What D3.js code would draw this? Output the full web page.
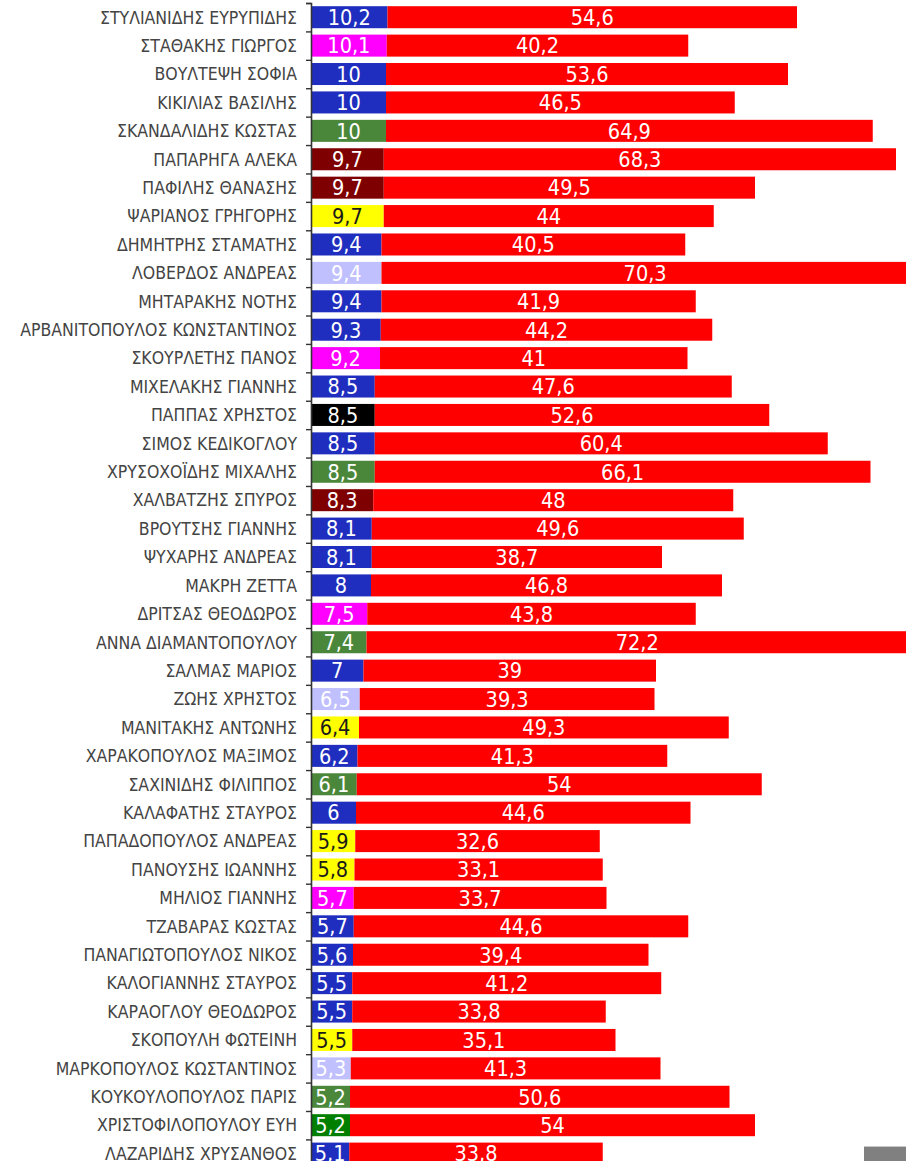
<!DOCTYPE html>
<html><head><meta charset="utf-8">
<script src="https://cdn.jsdelivr.net/npm/d3@7/dist/d3.min.js"></script>
<style>body{margin:0;background:#fff;overflow:hidden}</style>
</head><body>
<script>
const names = [
"ΣΤΥΛΙΑΝΙΔΗΣ ΕΥΡΥΠΙΔΗΣ","ΣΤΑΘΑΚΗΣ ΓΙΩΡΓΟΣ","ΒΟΥΛΤΕΨΗ ΣΟΦΙΑ","ΚΙΚΙΛΙΑΣ ΒΑΣΙΛΗΣ","ΣΚΑΝΔΑΛΙΔΗΣ ΚΩΣΤΑΣ",
"ΠΑΠΑΡΗΓΑ ΑΛΕΚΑ","ΠΑΦΙΛΗΣ ΘΑΝΑΣΗΣ","ΨΑΡΙΑΝΟΣ ΓΡΗΓΟΡΗΣ","ΔΗΜΗΤΡΗΣ ΣΤΑΜΑΤΗΣ","ΛΟΒΕΡΔΟΣ ΑΝΔΡΕΑΣ",
"ΜΗΤΑΡΑΚΗΣ ΝΟΤΗΣ","ΑΡΒΑΝΙΤΟΠΟΥΛΟΣ ΚΩΝΣΤΑΝΤΙΝΟΣ","ΣΚΟΥΡΛΕΤΗΣ ΠΑΝΟΣ","ΜΙΧΕΛΑΚΗΣ ΓΙΑΝΝΗΣ","ΠΑΠΠΑΣ ΧΡΗΣΤΟΣ",
"ΣΙΜΟΣ ΚΕΔΙΚΟΓΛΟΥ","ΧΡΥΣΟΧΟΪΔΗΣ ΜΙΧΑΛΗΣ","ΧΑΛΒΑΤΖΗΣ ΣΠΥΡΟΣ","ΒΡΟΥΤΣΗΣ ΓΙΑΝΝΗΣ","ΨΥΧΑΡΗΣ ΑΝΔΡΕΑΣ",
"ΜΑΚΡΗ ΖΕΤΤΑ","ΔΡΙΤΣΑΣ ΘΕΟΔΩΡΟΣ","ΑΝΝΑ ΔΙΑΜΑΝΤΟΠΟΥΛΟΥ","ΣΑΛΜΑΣ ΜΑΡΙΟΣ","ΖΩΗΣ ΧΡΗΣΤΟΣ",
"ΜΑΝΙΤΑΚΗΣ ΑΝΤΩΝΗΣ","ΧΑΡΑΚΟΠΟΥΛΟΣ ΜΑΞΙΜΟΣ","ΣΑΧΙΝΙΔΗΣ ΦΙΛΙΠΠΟΣ","ΚΑΛΑΦΑΤΗΣ ΣΤΑΥΡΟΣ","ΠΑΠΑΔΟΠΟΥΛΟΣ ΑΝΔΡΕΑΣ",
"ΠΑΝΟΥΣΗΣ ΙΩΑΝΝΗΣ","ΜΗΛΙΟΣ ΓΙΑΝΝΗΣ","ΤΖΑΒΑΡΑΣ ΚΩΣΤΑΣ","ΠΑΝΑΓΙΩΤΟΠΟΥΛΟΣ ΝΙΚΟΣ","ΚΑΛΟΓΙΑΝΝΗΣ ΣΤΑΥΡΟΣ",
"ΚΑΡΑΟΓΛΟΥ ΘΕΟΔΩΡΟΣ","ΣΚΟΠΟΥΛΗ ΦΩΤΕΙΝΗ","ΜΑΡΚΟΠΟΥΛΟΣ ΚΩΣΤΑΝΤΙΝΟΣ","ΚΟΥΚΟΥΛΟΠΟΥΛΟΣ ΠΑΡΙΣ","ΧΡΙΣΤΟΦΙΛΟΠΟΥΛΟΥ ΕΥΗ",
"ΛΑΖΑΡΙΔΗΣ ΧΡΥΣΑΝΘΟΣ"];
const firstValues = [10.2,10.1,10,10,10,9.7,9.7,9.7,9.4,9.4,9.4,9.3,9.2,8.5,8.5,8.5,8.5,8.3,8.1,8.1,8,7.5,7.4,7,6.5,6.4,6.2,6.1,6,5.9,5.8,5.7,5.7,5.6,5.5,5.5,5.5,5.3,5.2,5.2,5.1];
const secondValues = [54.6,40.2,53.6,46.5,64.9,68.3,49.5,44,40.5,70.3,41.9,44.2,41,47.6,52.6,60.4,66.1,48,49.6,38.7,46.8,43.8,72.2,39,39.3,49.3,41.3,54,44.6,32.6,33.1,33.7,44.6,39.4,41.2,33.8,35.1,41.3,50.6,54,33.8];
const parties = ["ND","SYRIZA","ND","ND","PASOK","KKE","KKE","DIMAR","ND","KIDISO","ND","ND","SYRIZA","ND","BLACK",
"ND","PASOK","KKE","ND","ND","ND","SYRIZA","PASOK","ND","KIDISO","DIMAR","ND","PASOK","ND","DIMAR",
"DIMAR","SYRIZA","ND","ND","ND","ND","DIMAR","KIDISO","PASOK","GREEN","ND"];
const partyKeys = ["ND","SYRIZA","PASOK","KKE","DIMAR","KIDISO","BLACK","GREEN"];
const partyColorList = ["#1F2EBE","#FF00FF","#4B873B","#7F0000","#FFFF00","#C0C0FF","#000000","#007F00"];
const partyTextList = ["#ffffff","#ffffff","#ffffff","#ffffff","#1a1a1a","#ffffff","#ffffff","#ffffff"];
const secondColor = "#FF0000";

const data = names.map((n,i)=>({name:n, a:firstValues[i], b:secondValues[i], p:parties[i]}));

const W = 906, H = 1161;
const svg = d3.select("body").append("svg").attr("width", W).attr("height", H)
  .style("font-family","'DejaVu Sans Condensed','DejaVu Sans',sans-serif").style("font-stretch","condensed");

const x = d3.scaleLinear().domain([0, 80]).range([311, 911]);
const step = 28.41;
const y = d3.scaleBand().domain(names).range([3, 3 + step*names.length]).paddingInner(0.225).paddingOuter(0.1125);
const yEdge = d3.scaleLinear().domain([0, names.length]).range([3, 3 + step*names.length]);
const color = d3.scaleOrdinal().domain(partyKeys).range(partyColorList);
const tcolor = d3.scaleOrdinal().domain(partyKeys).range(partyTextList);

// bars
const g = svg.append("g");
g.selectAll("rect.a").data(data).join("rect").attr("class","a")
  .attr("x", x(0)).attr("y", d=>y(d.name)).attr("height", y.bandwidth())
  .attr("width", d=>x(d.a)-x(0)).attr("fill", d=>color(d.p));
g.selectAll("rect.b").data(data).join("rect").attr("class","b")
  .attr("x", d=>x(d.a)).attr("y", d=>y(d.name)).attr("height", y.bandwidth())
  .attr("width", d=>x(d.a+d.b)-x(d.a)).attr("fill", secondColor);

const fmt = v => String(v).replace(".", ",");
g.selectAll("text.a").data(data).join("text").attr("class","a")
  .attr("x", d=>(x(0)+x(d.a))/2).attr("y", d=>y(d.name)+y.bandwidth()/2+7.8)
  .attr("text-anchor","middle").attr("font-size","21.5px").attr("fill", d=>tcolor(d.p))
  .text(d=>fmt(d.a));
g.selectAll("text.b").data(data).join("text").attr("class","b")
  .attr("x", d=>(x(d.a)+x(d.a+d.b))/2).attr("y", d=>y(d.name)+y.bandwidth()/2+7.8)
  .attr("text-anchor","middle").attr("font-size","21.5px").attr("fill","#ffffff")
  .text(d=>fmt(d.b));

// axis
const axis = d3.axisLeft(yEdge).tickValues(d3.range(0, names.length+1)).tickSize(5).tickFormat("");
const ag = svg.append("g").attr("transform", `translate(${x(0)},0)`).call(axis);
ag.select(".domain").attr("stroke","#333").attr("stroke-width",1.6);
ag.selectAll(".tick line").attr("stroke","#333").attr("stroke-width",1.4);

// category labels
svg.append("g").selectAll("text").data(names).join("text")
  .attr("x", 297).attr("y", d=>y(d)+y.bandwidth()/2+6.3)
  .attr("text-anchor","end").attr("font-size","17.5px").attr("fill","#444")
  .text(d=>d);

// scrollbar fragment
svg.append("rect").attr("x",864).attr("y",1146).attr("width",42).attr("height",15).attr("fill","#808080");
svg.append("line").attr("x1",864).attr("x2",906).attr("y1",1146.5).attr("y2",1146.5).attr("stroke","#c8c8c8");
</script>
</body></html>
